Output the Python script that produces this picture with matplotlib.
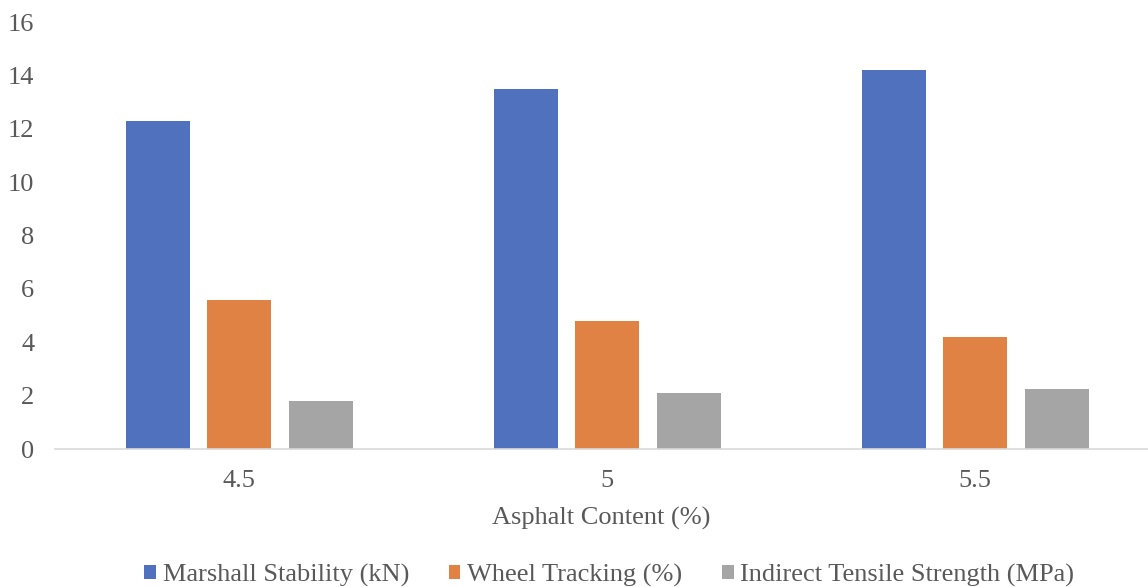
import matplotlib.pyplot as plt
import numpy as np

plt.rcParams['font.family'] = ['Liberation Serif', 'DejaVu Serif']

categories = ['4.5', '5', '5.5']
marshall = [12.3, 13.5, 14.2]
wheel = [5.6, 4.8, 4.2]
its = [1.8, 2.1, 2.25]
series_names = ['Marshall Stability (kN)', 'Wheel Tracking (%)', 'Indirect Tensile Strength (MPa)']
colors = ['#4f71be', '#df8244', '#a5a5a5']
text_color = '#595959'

fig = plt.figure(figsize=(11.48, 5.87), dpi=100)
ax = fig.add_axes([0.048, 0.235, 0.952, 0.7275])

x = np.arange(len(categories))
w = 0.174
step = 0.2215
for i, (vals, name, c) in enumerate(zip([marshall, wheel, its], series_names, colors)):
    ax.bar(x + (i - 1) * step, vals, width=w, color=c, label=name)

ax.set_xlim(-0.5, 2.47)
ax.set_ylim(0, 16)
ax.set_yticks(range(0, 17, 2))
ax.set_xticks(x)
ax.set_xticklabels(categories)
for s in ['top', 'right', 'left']:
    ax.spines[s].set_visible(False)
ax.spines['bottom'].set_color('#d9d9d9')
ax.spines['bottom'].set_linewidth(1.2)
ax.tick_params(axis='both', length=0, labelsize=19, colors=text_color)
ax.tick_params(axis='y', pad=15)
ax.tick_params(axis='x', pad=15)
ax.set_xlabel('Asphalt Content (%)', fontsize=19, color=text_color, labelpad=11)

ax.legend(loc='center', bbox_to_anchor=(0.507, -0.295), ncol=3, frameon=False,
          fontsize=19, labelcolor=text_color, handlelength=0.45, handleheight=0.45,
          handletextpad=0.25, columnspacing=1.5)

fig.savefig('out.png', dpi=100)
